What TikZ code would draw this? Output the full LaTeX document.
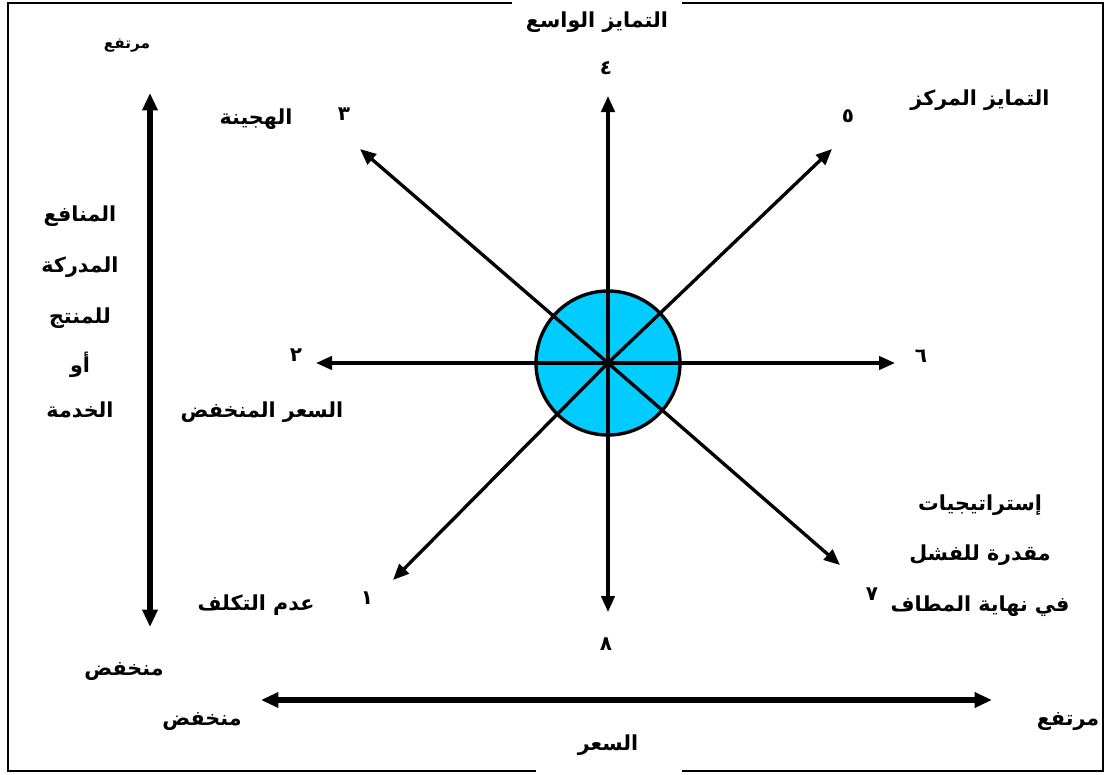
\documentclass[tikz,border=0pt]{standalone}
\usepackage{fontspec}
\usetikzlibrary{arrows.meta}
\TeXXeTstate=1
\newfontfamily\arabicfont[Script=Arabic]{DejaVu Sans}
\newcommand\myR[1]{\beginR#1\endR}
\definecolor{clockblue}{HTML}{00CCFF}
\tikzset{
  lbl/.style={inner sep=0pt, font=\arabicfont\bfseries\fontsize{15.5}{18}\selectfont},
  smalllbl/.style={inner sep=0pt, font=\arabicfont\bfseries\fontsize{11.5}{14}\selectfont},
  num/.style={inner sep=0pt, font=\arabicfont\bfseries\fontsize{15}{17}\selectfont},
  spoke/.style={line width=2.5pt, -{Triangle[length=12pt,width=10pt]}},
  axis/.style={line width=3.8pt, {Triangle[length=13pt,width=11pt]}-{Triangle[length=13pt,width=11pt]}},
  frame/.style={line width=2pt}
}
\begin{document}
\begin{tikzpicture}[x=0.75pt,y=-0.75pt]
\useasboundingbox (0,0) rectangle (1105,774);
% frame with gaps
\draw[frame] (512,3) -- (8,3) -- (8,771) -- (536,771);
\draw[frame] (682,771) -- (1103,771) -- (1103,3) -- (682,3);
% clock circle
\node[circle, draw, line width=2.5pt, fill=clockblue, minimum size=108pt, inner sep=0pt] (c) at (608,363) {};
% spoke end points
\coordinate (e4) at (608,96);
\coordinate (e8) at (608,612);
\coordinate (e2) at (316,363);
\coordinate (e6) at (895,363);
\coordinate (e3) at (360,149);
\coordinate (e5) at (832,149);
\coordinate (e1) at (393,580);
\coordinate (e7) at (840,565);
\foreach \e in {e1,e2,e3,e4,e5,e6,e7,e8} \draw[spoke] (c.center) -- (\e);
% axes
\coordinate (vtop) at (150,93);
\coordinate (vbot) at (150,627);
\draw[axis] (vtop) -- (vbot);
\coordinate (hl) at (261,700);
\coordinate (hr) at (992,700);
\draw[axis] (hl) -- (hr);
% labels
\node[lbl] (t4) at (597,22) {\myR{التمايز الواسع}};
\node[num] (n4) at (606,68) {\myR{٤}};
\node[smalllbl] (hiV) at (127,46) {\myR{مرتفع}};
\node[lbl] (t3) at (256,119) {\myR{الهجينة}};
\node[num] (n3) at (344,114) {\myR{٣}};
\node[lbl] (t5) at (980,100) {\myR{التمايز المركز}};
\node[num] (n5) at (848,116) {\myR{٥}};
\node[lbl] (b1) at (80,216) {\myR{المنافع}};
\node[lbl] (b2) at (80,267) {\myR{المدركة}};
\node[lbl] (b3) at (80,318) {\myR{للمنتج}};
\node[lbl] (b4) at (80,365) {\myR{أو}};
\node[lbl] (b5) at (80,410) {\myR{الخدمة}};
\node[num] (n2) at (296,355) {\myR{٢}};
\node[lbl] (t2) at (262,412) {\myR{السعر المنخفض}};
\node[num] (n6) at (921,356) {\myR{٦}};
\node[lbl] (t1) at (256,605) {\myR{عدم التكلف}};
\node[num] (n1) at (367,598) {\myR{١}};
\node[num] (n8) at (606,644) {\myR{٨}};
\node[lbl] (t7a) at (980,505) {\myR{إستراتيجيات}};
\node[lbl] (t7b) at (980,555) {\myR{مقدرة للفشل}};
\node[lbl] (t7c) at (980,606) {\myR{في نهاية المطاف}};
\node[num] (n7) at (872,594) {\myR{٧}};
\node[lbl] (loV) at (124,672) {\myR{منخفض}};
\node[lbl] (loH) at (202,722) {\myR{منخفض}};
\node[lbl] (hiH) at (1068,722) {\myR{مرتفع}};
\node[lbl] (price) at (608,745) {\myR{السعر}};
\end{tikzpicture}
\end{document}
